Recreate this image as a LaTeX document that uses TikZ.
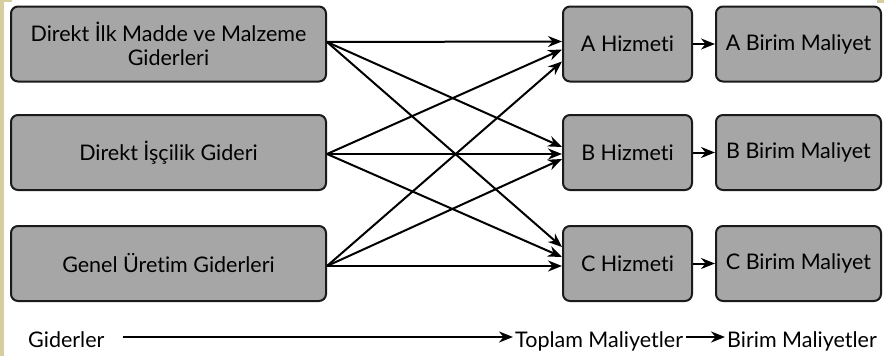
\documentclass[tikz,border=0pt]{standalone}
\usepackage{fontspec}
\setmainfont{Lato}[Ligatures={NoCommon,NoRare}]
\usetikzlibrary{arrows.meta}
\definecolor{kutugri}{HTML}{A6A6A6}
\definecolor{kenar}{HTML}{1A1A1A}
\definecolor{serit}{HTML}{D6CE9E}
\begin{document}
\begin{tikzpicture}[x=1pt,y=-1pt,>={Stealth[length=14pt,width=11pt]},
	font=\fontsize{21.5}{24}\selectfont, line join=round,
	kutu/.style={draw=kenar,line width=2pt,fill=kutugri,rounded corners=7pt,
		minimum height=75pt,align=center,inner sep=0pt},
	ok/.style={->,line width=2pt},
	yazi/.style={anchor=base west,inner sep=0pt,text height=14pt,text depth=4pt}]
	\useasboundingbox (0,0) rectangle (884,356);
	% kenar seritleri
	\fill[serit] (0,0) rectangle (4,356);
	\fill[serit] (0,0) rectangle (12,2);
	\fill[serit] (877,0) rectangle (884,3);
	% giderler
	\node[kutu,minimum width=315pt] (gider1) at (168.5,44) {Direkt İlk Madde ve Malzeme\\Giderleri};
	\node[kutu,minimum width=315pt] (gider2) at (168.5,152.5) {Direkt İşçilik Gideri};
	\node[kutu,minimum width=315pt] (gider3) at (168.5,263.5) {Genel Üretim Giderleri};
	% hizmetler
	\node[kutu,minimum width=129pt] (hizA) at (627.5,44) {A Hizmeti};
	\node[kutu,minimum width=129pt] (hizB) at (627.5,152.5) {B Hizmeti};
	\node[kutu,minimum width=129pt] (hizC) at (627.5,263.5) {C Hizmeti};
	% birim maliyetler
	\node[kutu,minimum width=165pt] (birA) at (798.5,44) {A Birim Maliyet};
	\node[kutu,minimum width=165pt] (birB) at (798.5,152.5) {B Birim Maliyet};
	\node[kutu,minimum width=165pt] (birC) at (798.5,263.5) {C Birim Maliyet};
	% oklar
	\coordinate (k1) at ([yshift=2pt]gider1.east);
	\coordinate (k2) at ([yshift=-1.5pt]gider2.east);
	\coordinate (k3) at ([yshift=-2.5pt]gider3.east);
	\draw[ok] (k1) -- ([yshift=2.5pt]hizA.west);
	\draw[ok] (k2) -- ([yshift=-5.5pt]hizA.west);
	\draw[ok] (k3) -- ([yshift=-17.5pt]hizA.west);
	\draw[ok] (k1) -- ([yshift=5.5pt]hizB.west);
	\draw[ok] (k2) -- ([yshift=-1.5pt]hizB.west);
	\draw[ok] (k3) -- ([yshift=-6.5pt]hizB.west);
	\draw[ok] (k1) -- ([yshift=16.5pt]hizC.west);
	\draw[ok] (k2) -- ([yshift=6.5pt]hizC.west);
	\draw[ok] (k3) -- ([yshift=-2.5pt]hizC.west);
	\draw[ok] (hizA) -- (birA);
	\draw[ok] (hizB) -- (birB);
	\draw[ok] (hizC) -- (birC);
	% alt satir
	\node[yazi] (giderler) at (28,347) {Giderler};
	\node[yazi] (toplam) at (515,347) {Toplam Maliyetler};
	\node[yazi] (birim) at (727,347) {Birim Maliyetler};
	\draw[ok] ([shift={(18,-5)}]giderler.east) -- ([shift={(-2,-5)}]toplam.west);
	\draw[ok] ([shift={(3,-5)}]toplam.east) -- ([shift={(-2,-5)}]birim.west);
\end{tikzpicture}
\end{document}
